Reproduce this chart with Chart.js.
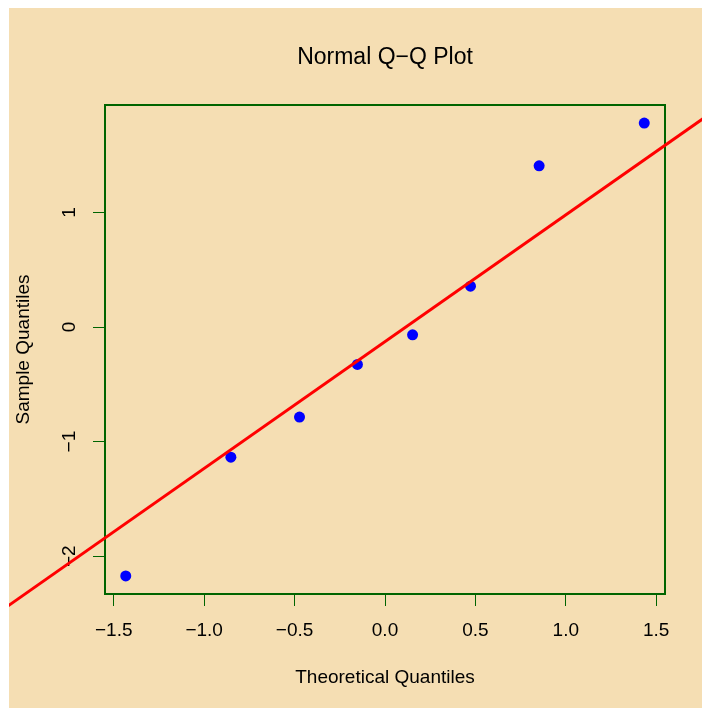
<!DOCTYPE html>
<html>
<head>
<meta charset="utf-8">
<script src="https://cdn.jsdelivr.net/npm/chart.js@4.4.1/dist/chart.umd.min.js"></script>
<style>
  html, body { margin: 0; padding: 0; background: #ffffff; }
  #qqChart { position: absolute; left: 9px; top: 8px; background: #f5deb3; }
</style>
</head>
<body>
<canvas id="qqChart" width="693" height="700"></canvas>
<script>
const theoretical = [-1.4338, -0.8524, -0.4728, -0.1525, 0.1525, 0.4728, 0.8524, 1.4338];
const sample = [-2.172, -1.136, -0.786, -0.326, -0.068, 0.357, 1.407, 1.780];
const xTicks = [-1.5, -1.0, -0.5, 0.0, 0.5, 1.0, 1.5];
const yTicks = [-2, -1, 0, 1];

const FONT = '"Liberation Sans", Arial, Helvetica, sans-serif';
const GREEN = '#006400';

function minus(s) { return s.replace('-', '\u2212'); }

// R-style axis range: data range stretched by 4% each side
function pad(arr) {
    const lo = Math.min(...arr), hi = Math.max(...arr);
    const d = (hi - lo) * 0.04;
    return [lo - d, hi + d];
}
const xr = pad(theoretical);
const yr = pad(sample);

// qqline: line through the first and third quartiles
function quantile(arr, p) {
    const s = arr.slice().sort((a, b) => a - b);
    const h = (s.length - 1) * p;
    const i = Math.floor(h);
    return s[i] + (h - i) * (s[Math.min(i + 1, s.length - 1)] - s[i]);
}
const q1 = quantile(sample, 0.25), q3 = quantile(sample, 0.75);
const z = 0.6744898;
const slope = (q3 - q1) / (2 * z);
const intercept = q1 + slope * z;
const lineX = [-4, 4];

const boxPlugin = {
    id: 'box',
    beforeDatasetsDraw(chart) {
        const a = chart.chartArea, ctx = chart.ctx;
        ctx.save();
        ctx.strokeStyle = GREEN;
        ctx.lineWidth = 2;
        ctx.strokeRect(a.left, a.top, a.right - a.left, a.bottom - a.top);
        ctx.restore();
    },
    afterDraw(chart) {
        const a = chart.chartArea, ctx = chart.ctx;
        ctx.save();
        ctx.fillStyle = '#000';
        ctx.font = '23px ' + FONT;
        ctx.textAlign = 'center';
        ctx.textBaseline = 'alphabetic';
        ctx.fillText('Normal Q\u2212Q Plot', (a.left + a.right) / 2, 56);
        ctx.restore();
    }
};

new Chart(document.getElementById('qqChart').getContext('2d'), {
    type: 'scatter',
    data: {
        datasets: [{
            type: 'line',
            data: lineX.map(x => ({ x: x, y: intercept + slope * x })),
            borderColor: '#ff0000',
            borderWidth: 3,
            pointRadius: 0,
            clip: false
        }, {
            data: theoretical.map((x, i) => ({ x: x, y: sample[i] })),
            backgroundColor: '#0000ff',
            borderWidth: 0,
            pointRadius: 5.5
        }]
    },
    options: {
        responsive: false,
        animation: false,
        devicePixelRatio: 1,
        layout: { padding: { top: 97, right: 37, left: 0, bottom: 0 } },
        plugins: { legend: { display: false }, tooltip: { enabled: false } },
        scales: {
            x: {
                type: 'linear',
                min: xr[0],
                max: xr[1],
                afterBuildTicks: s => { s.ticks = xTicks.map(v => ({ value: v })); },
                afterFit: s => { s.height = 114; },
                border: { display: false },
                grid: { drawOnChartArea: false, drawTicks: true, tickLength: 12, tickWidth: 1, color: GREEN },
                ticks: {
                    color: '#000',
                    padding: 13,
                    maxRotation: 0,
                    autoSkip: false,
                    font: { family: FONT, size: 19 },
                    callback: v => minus(Number(v).toFixed(1))
                },
                title: {
                    display: true,
                    text: 'Theoretical Quantiles',
                    color: '#000',
                    font: { family: FONT, size: 19 },
                    padding: { top: 0, bottom: 19 }
                }
            },
            y: {
                type: 'linear',
                min: yr[0],
                max: yr[1],
                afterBuildTicks: s => { s.ticks = yTicks.map(v => ({ value: v })); },
                afterFit: s => { s.width = 96; },
                border: { display: false },
                grid: { drawOnChartArea: false, drawTicks: true, tickLength: 12, tickWidth: 1, color: GREEN },
                ticks: {
                    color: '#000',
                    padding: 12,
                    minRotation: 90,
                    maxRotation: 90,
                    crossAlign: 'center',
                    autoSkip: false,
                    font: { family: FONT, size: 19 },
                    callback: v => minus(String(v))
                },
                title: {
                    display: true,
                    text: 'Sample Quantiles',
                    color: '#000',
                    font: { family: FONT, size: 19 },
                    padding: { top: 3, bottom: 0 }
                }
            }
        }
    },
    plugins: [boxPlugin]
});
</script>
</body>
</html>
